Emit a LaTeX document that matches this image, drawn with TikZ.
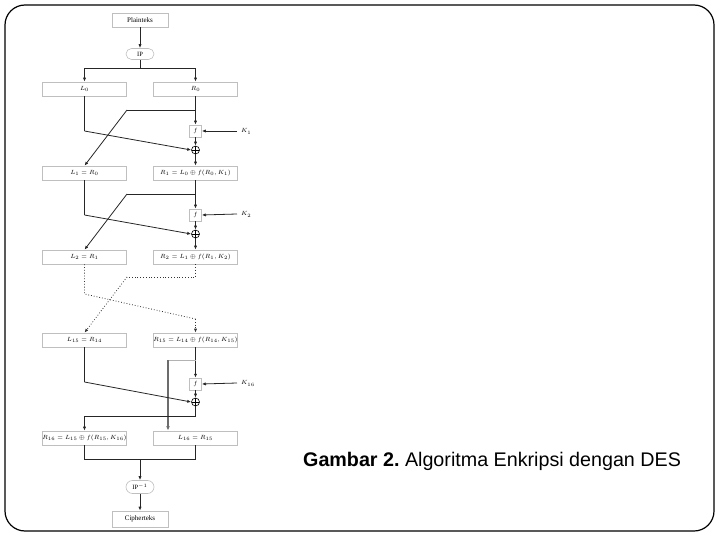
\documentclass[tikz,border=0pt]{standalone}
\usepackage{fontspec}
\setmainfont{Liberation Serif}
\newfontfamily\capfont{Liberation Sans}
\usetikzlibrary{arrows.meta}
\frenchspacing
\begin{document}
\begin{tikzpicture}[x=1pt,y=-1pt,
  box/.style={draw=gray!50, line width=0.6pt, minimum width=84pt, minimum height=14pt, inner sep=0pt, font=\fontsize{6}{7}\selectfont},
  endbox/.style={draw=gray!50, line width=0.6pt, minimum width=56pt, minimum height=14pt, inner sep=0pt, font=\fontsize{7}{8}\selectfont},
  fbox/.style={draw=gray!50, line width=0.5pt, minimum width=12pt, minimum height=12pt, inner sep=0pt, font=\fontsize{6}{7}\selectfont},
  ipbox/.style={draw=gray!50, line width=0.6pt, minimum width=28pt, minimum height=11pt, inner sep=0pt, rounded corners=5.5pt, font=\fontsize{6.5}{7}\selectfont},
  xorc/.style={circle, draw=black, line width=0.6pt, minimum size=8pt, inner sep=0pt,
    path picture={\draw[line width=0.5pt] (path picture bounding box.north) -- (path picture bounding box.south) (path picture bounding box.west) -- (path picture bounding box.east);}},
  klabel/.style={anchor=west, inner sep=0pt, font=\fontsize{6.5}{7}\selectfont},
  ln/.style={line width=0.8pt, draw=black!85},
  arr/.style={ln, -{Latex[length=4pt,width=3.2pt]}},
  dln/.style={line width=0.8pt, draw=black!80, dotted},
  darr/.style={dln, -{Latex[length=4pt,width=3.2pt]}},
  thk/.style={line width=1.6pt, draw=gray!85!black, -{Latex[length=4.5pt,width=3.6pt]}}
]
\useasboundingbox (0,0) rectangle (720,540);
\draw[line width=1.2pt, rounded corners=20pt] (5,5) rectangle (714,531);

% top
\node[endbox] (plain) at (140,20) {Plainteks};
\node[ipbox] (ip) at (140,54) {IP};
\node[box] (L0) at (84.5,89) {$L_0$};
\node[box] (R0) at (195.5,89) {$R_0$};
\draw[arr] (plain) -- (ip);
\coordinate (j0) at (140,68);
\draw[ln] (ip) -- (j0);
\draw[arr] (j0) -| (L0.north);
\draw[arr] (j0) -| (R0.north);

% round 1
\node[fbox] (f1) at (195.5,131) {$f$};
\node[xorc] (x1) at (195.5,150) {};
\node[box] (L1) at (84.5,173) {$L_1 = R_0$};
\node[box] (R1) at (195.5,173) {$R_1 = L_0 \oplus f(R_0, K_1)$};
\coordinate (k1s) at (237,131);
\node[klabel] (k1) at (241,131.5) {$K_1$};
\coordinate (b1) at (195.5,110);
\coordinate (b1l) at (127,110);
\coordinate (a1) at (84.5,131);
\draw[arr] (R0.south) -- (f1.north);
\draw[ln] (b1) -- (b1l);
\draw[arr] (b1l) -- (L1.north);
\draw[ln] (L0.south) -- (a1);
\draw[arr] (a1) -- (x1.west);
\draw[arr] (k1s) -- (f1.east);
\draw[arr] (f1.south) -- (x1.north);
\draw[arr] (x1.south) -- (R1.north);

% round 2
\node[fbox] (f2) at (195.5,215) {$f$};
\node[xorc] (x2) at (195.5,234) {};
\node[box] (L2) at (84.5,257) {$L_2 = R_1$};
\node[box] (R2) at (195.5,257) {$R_2 = L_1 \oplus f(R_1, K_2)$};
\coordinate (k2s) at (237,214);
\node[klabel] (k2) at (241,214.5) {$K_2$};
\coordinate (b2) at (195.5,194);
\coordinate (b2l) at (127,194);
\coordinate (a2) at (84.5,215);
\draw[arr] (R1.south) -- (f2.north);
\draw[ln] (b2) -- (b2l);
\draw[arr] (b2l) -- (L2.north);
\draw[ln] (L1.south) -- (a2);
\draw[arr] (a2) -- (x2.west);
\draw[arr] (k2s) -- (f2.east);
\draw[arr] (f2.south) -- (x2.north);
\draw[arr] (x2.south) -- (R2.north);

% dotted rounds
\node[box] (L15) at (84.5,340) {$L_{15} = R_{14}$};
\node[box] (R15) at (195.5,340) {$R_{15} = L_{14} \oplus f(R_{14}, K_{15})$};
\coordinate (d1) at (84.5,294);
\coordinate (d2) at (195.5,319);
\coordinate (e1) at (195.5,277);
\coordinate (e2) at (127,277);
\draw[dln] (L2.south) -- (d1) -- (d2);
\draw[darr] (d2) -- (R15.north);
\draw[dln] (R2.south) -- (e1) -- (e2);
\draw[darr] (e2) -- (L15.north);

% round 16
\node[fbox] (f16) at (195.5,384) {$f$};
\node[xorc] (x16) at (195.5,402) {};
\node[box] (R16) at (84.5,438) {$R_{16} = L_{15} \oplus f(R_{15}, K_{16})$};
\node[box] (L16) at (195.5,438) {$L_{16} = R_{15}$};
\coordinate (k16s) at (237,383);
\node[klabel] (k16) at (241,383.5) {$K_{16}$};
\coordinate (b16) at (195.5,360);
\coordinate (b16l) at (168,360);
\coordinate (a16) at (84.5,382);
\coordinate (c16) at (195.5,416);
\draw[arr] (R15.south) -- (f16.north);
\draw[line width=0.6pt, draw=gray!60] (b16) -- (b16l);
\draw[thk] (b16l) -- (b16l |- L16.north);
\draw[ln] (L15.south) -- (a16);
\draw[arr] (a16) -- (x16.west);
\draw[arr] (k16s) -- (f16.east);
\draw[arr] (f16.south) -- (x16.north);
\draw[ln] (x16.south) -- (c16);
\draw[arr] (c16) -| (R16.north);

% bottom
\node[ipbox, minimum height=13pt, rounded corners=6.5pt] (ipi) at (140,487) {IP$^{-1}$};
\node[endbox, minimum height=16pt] (ciph) at (140,519) {Cipherteks};
\coordinate (j1) at (140,459);
\draw[ln] (R16.south) |- (j1);
\draw[ln] (L16.south) |- (j1);
\draw[arr] (j1) -- (ipi.north);
\draw[arr] (ipi.south) -- (ciph.north);

% caption
\node[anchor=base west, inner sep=0pt, font=\capfont\fontsize{19.7}{22}\selectfont] (cap) at (303,466.5) {\textbf{Gambar 2.} Algoritma Enkripsi dengan DES};
\end{tikzpicture}
\end{document}
